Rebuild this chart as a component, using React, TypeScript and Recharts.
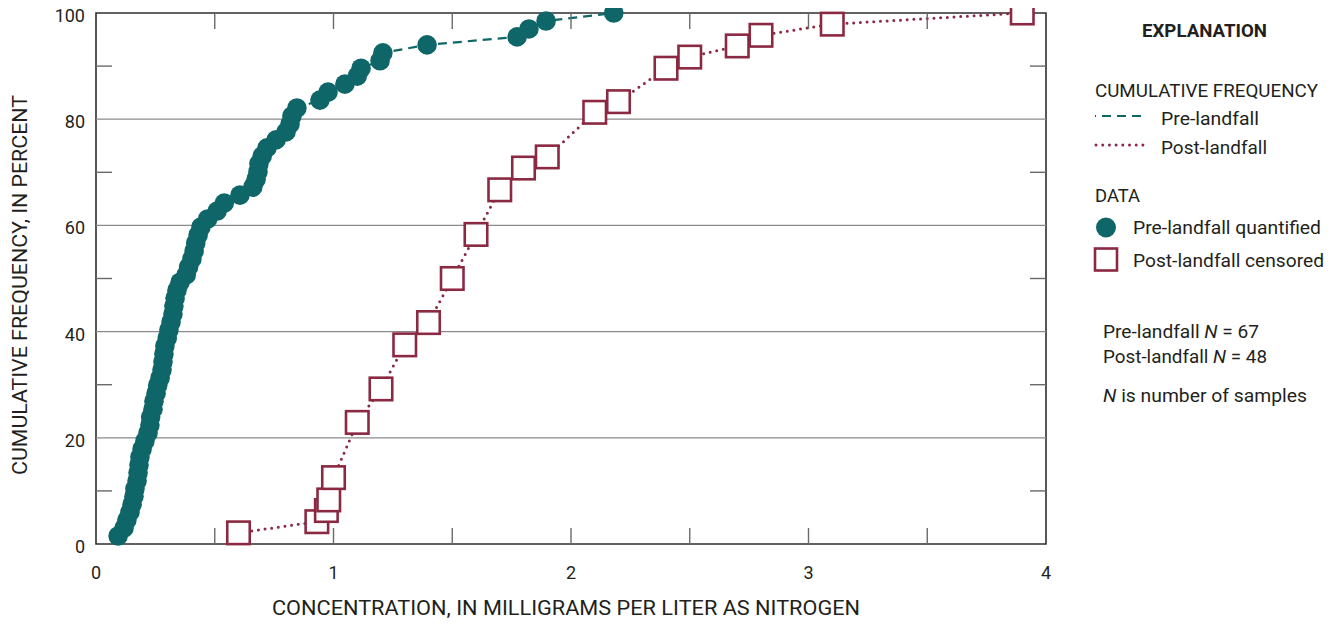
import React from 'react';
import { ScatterChart, Scatter, XAxis, YAxis, ReferenceArea, ReferenceLine } from 'recharts';

// ---- Data ----
const preConcentration = [
  0.093, 0.118, 0.13, 0.143, 0.152, 0.16, 0.164, 0.173, 0.177, 0.181,
  0.185, 0.194, 0.206, 0.219, 0.227, 0.23, 0.24, 0.244, 0.253, 0.26,
  0.27, 0.278, 0.282, 0.286, 0.29, 0.3, 0.307, 0.316, 0.324, 0.328,
  0.333, 0.341, 0.354, 0.38, 0.39, 0.404, 0.413, 0.42, 0.43, 0.442,
  0.47, 0.51, 0.54, 0.606, 0.66, 0.674, 0.682, 0.686, 0.7, 0.72,
  0.758, 0.8, 0.817, 0.825, 0.846, 0.943, 0.977, 1.048, 1.1, 1.116,
  1.196, 1.208, 1.394, 1.773, 1.823, 1.895, 2.18,
];
const preFrequency = [
  1.5, 3.0, 4.5, 6.0, 7.5, 9.0, 10.4, 11.9, 13.4, 14.9,
  16.4, 17.9, 19.4, 20.9, 22.4, 23.9, 25.4, 26.9, 28.4, 29.9,
  31.3, 32.8, 34.3, 35.8, 37.3, 38.8, 40.3, 41.8, 43.3, 44.8,
  46.3, 47.8, 49.3, 50.7, 52.2, 53.7, 55.2, 56.7, 58.2, 59.7,
  61.2, 62.7, 64.2, 65.7, 67.2, 68.7, 70.1, 71.6, 73.1, 74.6,
  76.1, 77.6, 79.1, 80.6, 82.1, 83.6, 85.1, 86.6, 88.1, 89.6,
  91.0, 92.5, 94.0, 95.5, 97.0, 98.5, 100,
];
const postConcentration = [
  0.6, 0.93, 0.97, 0.98, 1.0, 1.1, 1.2, 1.3, 1.4, 1.5, 1.6,
  1.7, 1.8, 1.9, 2.1, 2.2, 2.4, 2.5, 2.7, 2.8, 3.1, 3.9,
];
const postFrequency = [
  2.1, 4.2, 6.3, 8.3, 12.5, 22.9, 29.2, 37.5, 41.7, 50.0, 58.3,
  66.7, 70.8, 72.9, 81.3, 83.3, 89.6, 91.7, 93.8, 95.8, 97.9, 100,
];
const xTicks = [0, 0.5, 1, 1.5, 2, 2.5, 3, 3.5, 4];
const xLabelTicks = [0, 1, 2, 3, 4];
const yTicks = [0, 10, 20, 30, 40, 50, 60, 70, 80, 90, 100];
const yLabelTicks = [0, 20, 40, 60, 80, 100];
const gridValues = [20, 40, 60, 80];

const preData = preConcentration.map((x, i) => ({ x, y: preFrequency[i] }));
const postData = postConcentration.map((x, i) => ({ x, y: postFrequency[i] }));

// ---- Layout / style ----
const W = 1321;
const H = 619;
const MARGIN = { top: 13, right: 283, bottom: 0, left: 0 };
const Y_AXIS_W = 88;
const X_AXIS_H = 75;
const PLOT_W = W - MARGIN.left - MARGIN.right - Y_AXIS_W; // 950
const PLOT_H = H - MARGIN.top - MARGIN.bottom - X_AXIS_H; // 531
const FONT = "Roboto, 'Noto Sans', 'DejaVu Sans', sans-serif";
const TEXT = '#231f20';
const GREEN = '#0f6668';
const RED = '#8b2942';
const TICK = '#6a6a6a';
const TICK_LEN = 16;

const XTick = (props: any) => {
  const { x, y, payload } = props;
  const v = payload.value;
  const edge = v === 0 || v === 4;
  return (
    <g>
      {!edge && <line x1={x} y1={y} x2={x} y2={y - TICK_LEN} stroke={TICK} strokeWidth={1.4} />}
      {!edge && (
        <line x1={x} y1={y - PLOT_H} x2={x} y2={y - PLOT_H + TICK_LEN} stroke={TICK} strokeWidth={1.4} />
      )}
      {xLabelTicks.includes(v) && (
        <text x={x} y={y + 35} textAnchor="middle" fontFamily={FONT} fontSize={18} fill={TEXT}>
          {v}
        </text>
      )}
    </g>
  );
};

const YTick = (props: any) => {
  const { x, y, payload } = props;
  const v = payload.value;
  const edge = v === 0 || v === 100;
  const isGrid = gridValues.includes(v);
  return (
    <g>
      {!edge && !isGrid && <line x1={x} y1={y} x2={x + TICK_LEN} y2={y} stroke={TICK} strokeWidth={1.4} />}
      {!edge && !isGrid && (
        <line x1={x + PLOT_W} y1={y} x2={x + PLOT_W - TICK_LEN} y2={y} stroke={TICK} strokeWidth={1.4} />
      )}
      {yLabelTicks.includes(v) && (
        <text x={x - 11} y={y + 9} textAnchor="end" fontFamily={FONT} fontSize={18} fill={TEXT}>
          {v}
        </text>
      )}
    </g>
  );
};

const Dot = (props: any) => {
  const { cx, cy } = props;
  if (cx == null || cy == null) return null;
  return <circle cx={cx} cy={cy} r={9.8} fill={GREEN} />;
};

const Square = (props: any) => {
  const { cx, cy } = props;
  if (cx == null || cy == null) return null;
  const s = 22.5;
  return (
    <rect x={cx - s / 2} y={cy - s / 2} width={s} height={s} fill="#ffffff" stroke={RED} strokeWidth={2.6} />
  );
};

const XTitle = () => (
  <text
    x={558}
    y={607}
    textAnchor="middle"
    fontFamily={FONT}
    fontSize={20}
    fill={TEXT}
    textLength={588}
    lengthAdjust="spacingAndGlyphs"
  >
    CONCENTRATION, IN MILLIGRAMS PER LITER AS NITROGEN
  </text>
);

const YTitle = () => (
  <text
    x={0}
    y={0}
    transform="translate(19 277) rotate(-90)"
    textAnchor="middle"
    fontFamily={FONT}
    fontSize={20}
    fill={TEXT}
    textLength={380}
    lengthAdjust="spacingAndGlyphs"
  >
    CUMULATIVE FREQUENCY, IN PERCENT
  </text>
);

const LegendText = (p: { x: number; y: number; w: number; bold?: boolean; anchor?: string; children: any }) => (
  <text
    x={p.x}
    y={p.y}
    fontFamily={FONT}
    fontSize={19}
    fontWeight={p.bold ? 700 : 400}
    fill={TEXT}
    textAnchor={p.anchor || 'start'}
    textLength={p.w}
    lengthAdjust="spacingAndGlyphs"
  >
    {p.children}
  </text>
);

const Explanation = () => (
  <g>
    <LegendText x={1196.5} y={28.5} w={125} bold anchor="middle">EXPLANATION</LegendText>
    <LegendText x={1087} y={88.5} w={223}>CUMULATIVE FREQUENCY</LegendText>
    <line x1={1087} y1={108} x2={1137} y2={108} stroke={GREEN} strokeWidth={2.2} strokeDasharray="9 6" strokeDashoffset={8} />
    <LegendText x={1153} y={117} w={98}>Pre-landfall</LegendText>
    <line x1={1088} y1={137} x2={1137} y2={137} stroke={RED} strokeWidth={3} strokeDasharray="0 6.7" strokeLinecap="round" />
    <LegendText x={1153} y={146} w={106}>Post-landfall</LegendText>
    <LegendText x={1087} y={193.5} w={45}>DATA</LegendText>
    <circle cx={1098} cy={219.5} r={10} fill={GREEN} />
    <LegendText x={1125} y={225.5} w={188}>Pre-landfall quantified</LegendText>
    <rect x={1087} y={240.5} width={22} height={22} fill="#fff" stroke={RED} strokeWidth={2.6} />
    <LegendText x={1125} y={259} w={191}>Post-landfall censored</LegendText>
    <LegendText x={1095} y={330} w={156}>
      Pre-landfall <tspan fontStyle="italic">N</tspan> = 67
    </LegendText>
    <LegendText x={1095} y={354.5} w={164}>
      Post-landfall <tspan fontStyle="italic">N</tspan> = 48
    </LegendText>
    <LegendText x={1095} y={393.5} w={204}>
      <tspan fontStyle="italic">N</tspan>  is number of samples
    </LegendText>
  </g>
);

export default function App() {
  return (
    <div style={{ position: 'relative', width: W, height: H, marginTop: -8, background: '#fff' }}>
      <ScatterChart width={W} height={H} margin={MARGIN}>
        <XAxis
          type="number"
          dataKey="x"
          domain={[0, 4]}
          ticks={xTicks}
          interval={0}
          height={X_AXIS_H}
          axisLine={false}
          tickLine={false}
          tickSize={0}
          tickMargin={0}
          tick={<XTick />}
        />
        <YAxis
          type="number"
          dataKey="y"
          domain={[0, 100]}
          ticks={yTicks}
          interval={0}
          width={Y_AXIS_W}
          axisLine={false}
          tickLine={false}
          tickSize={0}
          tickMargin={0}
          tick={<YTick />}
        />
        {gridValues.map((g) => (
          <ReferenceLine key={g} y={g} stroke="#8a8a8a" strokeWidth={1.3} />
        ))}
        <ReferenceArea x1={0} x2={4} y1={0} y2={100} fill="none" fillOpacity={0} stroke="#2e2e2e" strokeWidth={1.6} />
        <Scatter
          name="Post-landfall censored"
          data={postData}
          line={{ stroke: RED, strokeWidth: 3, strokeDasharray: '0 6.7', strokeLinecap: 'round' }}
          lineType="joint"
          shape={<Square />}
          isAnimationActive={false}
        />
        <Scatter
          name="Pre-landfall quantified"
          data={preData}
          line={{ stroke: GREEN, strokeWidth: 2.2, strokeDasharray: '9 6' }}
          lineType="joint"
          shape={<Dot />}
          isAnimationActive={false}
        />
      </ScatterChart>
      <svg width={W} height={H} style={{ position: 'absolute', left: 0, top: 0, pointerEvents: 'none' }}>
        <g transform="translate(0 8)">
          <XTitle />
          <YTitle />
          <Explanation />
        </g>
      </svg>
    </div>
  );
}
